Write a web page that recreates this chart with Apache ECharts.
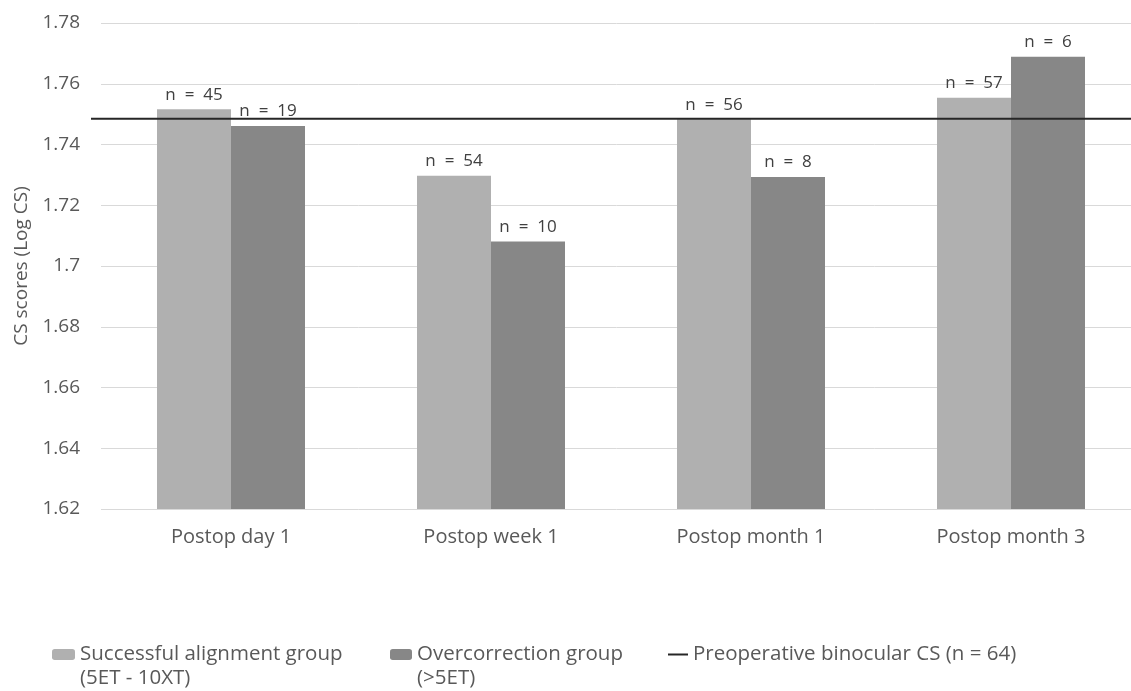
<!DOCTYPE html>
<html>
<head>
<meta charset="utf-8">
<script src="https://cdn.jsdelivr.net/npm/echarts@6/dist/echarts.min.js"></script>
<style>
html,body{margin:0;padding:0;background:#fff;}
#c{width:1131px;height:691px;}
</style>
</head>
<body>
<div id="c"></div>
<script>
const categories = ['Postop day 1', 'Postop week 1', 'Postop month 1', 'Postop month 3'];
const successfulValues = [1.7516, 1.7297, 1.7483, 1.7554];
const successfulN = [45, 54, 56, 57];
const overcorrectionValues = [1.7461, 1.7081, 1.7293, 1.7689];
const overcorrectionN = [19, 10, 8, 6];
const preopCS = 1.7485;
const yTicks = { min: 1.62, max: 1.78, interval: 0.02 };

const FONT = 'Open Sans';
const chart = echarts.init(document.getElementById('c'));

function nLabel(arr) {
  return {
    show: true, position: 'top', distance: 6,
    fontFamily: FONT, fontSize: 17, color: '#404040',
    formatter: p => 'n  =  ' + arr[p.dataIndex]
  };
}

chart.setOption({
  animation: false,
  backgroundColor: '#fff',
  grid: [
    { left: 101, top: 23, width: 1040, height: 486, outerBoundsMode: 'none', containLabel: false },
    { left: 91, top: 23, width: 1050, height: 486, outerBoundsMode: 'none', containLabel: false }
  ],
  xAxis: [
    {
      type: 'category', data: categories, gridIndex: 0,
      axisLine: { show: false }, axisTick: { show: false },
      axisLabel: { fontFamily: FONT, fontSize: 20, color: '#595959', margin: 18 }
    },
    { type: 'value', min: 0, max: 1, show: false, gridIndex: 1 }
  ],
  yAxis: [
    {
      type: 'value', min: yTicks.min, max: yTicks.max, interval: yTicks.interval, gridIndex: 0,
      name: 'CS scores (Log CS)', nameLocation: 'middle', nameGap: 69,
      nameTextStyle: { fontFamily: FONT, fontSize: 19, color: '#595959' },
      axisLine: { show: false }, axisTick: { show: false },
      axisLabel: { fontFamily: FONT, fontSize: 19, color: '#595959', margin: 21 },
      splitLine: { lineStyle: { color: '#d9d9d9', width: 1 } }
    },
    { type: 'value', min: yTicks.min, max: yTicks.max, show: false, gridIndex: 1 }
  ],
  legend: [
    { left: 52, top: 644, padding: 0, itemWidth: 23, itemHeight: 11,
      data: ['Successful alignment group'],
      textStyle: { fontFamily: FONT, fontSize: 20.5, color: '#595959' } },
    { left: 390, top: 644, padding: 0, itemWidth: 22, itemHeight: 11,
      data: ['Overcorrection group'],
      textStyle: { fontFamily: FONT, fontSize: 20.5, color: '#595959' } },
    { left: 668, top: 644, padding: 0, itemWidth: 20, itemHeight: 2, icon: 'rect',
      data: ['Preoperative binocular CS (n = 64)'],
      textStyle: { fontFamily: FONT, fontSize: 20.5, color: '#595959' } }
  ],
  graphic: [
    { type: 'text', left: 80, top: 668, style: { text: '(5ET - 10XT)', font: '20.5px "Open Sans"', fill: '#595959' } },
    { type: 'text', left: 417, top: 668, style: { text: '(>5ET)', font: '20.5px "Open Sans"', fill: '#595959' } }
  ],
  series: [
    {
      name: 'Successful alignment group', type: 'bar', data: successfulValues,
      barWidth: 74, barGap: '0%',
      itemStyle: { color: '#b0b0b0' }, label: nLabel(successfulN)
    },
    {
      name: 'Overcorrection group', type: 'bar', data: overcorrectionValues,
      barWidth: 74, barGap: '0%',
      itemStyle: { color: '#878787' }, label: nLabel(overcorrectionN)
    },
    {
      name: 'Preoperative binocular CS (n = 64)', type: 'line', xAxisIndex: 1, yAxisIndex: 1,
      data: [[0, preopCS], [1, preopCS]], showSymbol: false, symbol: 'none',
      lineStyle: { color: '#262626', width: 2 }, itemStyle: { color: '#262626' },
      z: 5
    }
  ]
});
</script>
</body>
</html>
